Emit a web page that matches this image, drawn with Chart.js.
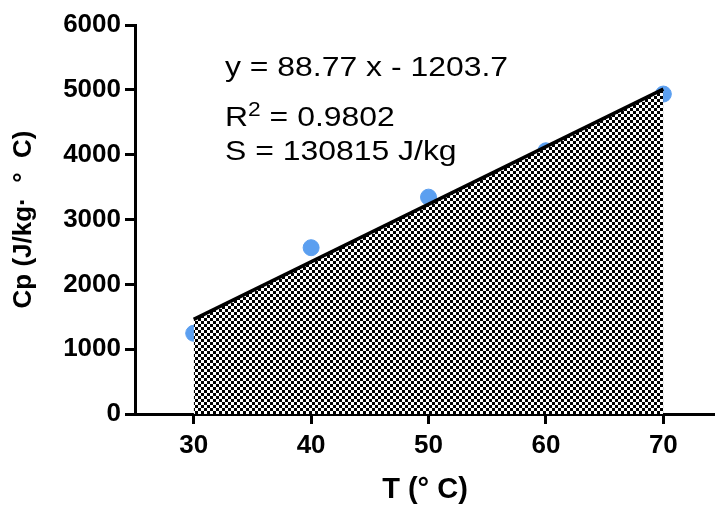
<!DOCTYPE html>
<html>
<head>
<meta charset="utf-8">
<script src="https://cdn.jsdelivr.net/npm/chart.js@4.4.1/dist/chart.umd.min.js"></script>
<style>
    html, body { margin: 0; padding: 0; background: #fff; }
    #wrap { position: relative; width: 715px; height: 511px; overflow: hidden; }
    .fit {
        position: absolute; left: 225px;
        font-family: 'Liberation Sans', Arial, sans-serif;
        font-size: 28px; line-height: 28px; color: #000;
        white-space: nowrap;
        transform: scaleX(1.14); transform-origin: 0 0;
    }
    .fit .sup { font-size: 20px; position: relative; top: -10px; }
</style>
</head>
<body>
<div id="wrap">
    <canvas id="cp"></canvas>
    <div class="fit" id="fitEq" style="top:53px"></div>
    <div class="fit" id="fitR2" style="top:103px"></div>
    <div class="fit" id="fitS" style="top:137px"></div>
</div>
<script>
// ── Data ────────────────────────────────────────────────────
const temps = [30, 40, 50, 60, 70];
const cpValues = [1245, 2565, 3345, 4060, 4935];
const slope = 88.77;
const intercept = -1203.7;
const r2 = 0.9802;
const area = 130815;
const xTicks = [30, 40, 50, 60, 70];
const yTicks = [0, 1000, 2000, 3000, 4000, 5000, 6000];

// fitted line from first to last temperature
const fitStart = temps[0];
const fitEnd = temps[temps.length - 1];

// ── Checkered fill under the fit ────────────────────────────
function checkerPattern(ctx, cell) {
    const c = document.createElement('canvas');
    c.width = cell * 2;
    c.height = cell * 2;
    const g = c.getContext('2d');
    g.fillStyle = '#ffffff';
    g.fillRect(0, 0, c.width, c.height);
    g.fillStyle = '#000000';
    g.fillRect(0, 0, cell, cell);
    g.fillRect(cell, cell, cell, cell);
    return ctx.createPattern(c, 'repeat');
}

const canvas = document.getElementById('cp');
canvas.width = 715;
canvas.height = 511;
const ctx = canvas.getContext('2d');

document.getElementById('fitEq').textContent = `y = ${slope} x - ${Math.abs(intercept)}`;
document.getElementById('fitR2').innerHTML = `R<span class="sup">2</span> = ${r2}`;
document.getElementById('fitS').textContent = `S = ${area} J/kg`;

const FONT = "'Liberation Sans', Arial, sans-serif";
const tickFont = { family: FONT, size: 26, weight: 'bold' };

new Chart(canvas, {
    data: {
        datasets: [
            {
                type: 'scatter',
                data: temps.map((t, i) => ({ x: t, y: cpValues[i] })),
                backgroundColor: '#5b9ff0',
                borderColor: '#5b9ff0',
                pointRadius: 8,
                order: 2
            },
            {
                type: 'line',
                data: [
                    { x: fitStart, y: slope * fitStart + intercept },
                    { x: fitEnd, y: slope * fitEnd + intercept }
                ],
                borderColor: '#000',
                borderWidth: 3.5,
                backgroundColor: checkerPattern(ctx, 3),
                fill: 'origin',
                pointRadius: 0,
                order: 1
            }
        ]
    },
    options: {
        responsive: false,
        animation: false,
        layout: { autoPadding: false, padding: { top: 25, right: 0, left: 0, bottom: 0 } },
        plugins: {
            legend: { display: false },
            tooltip: { enabled: false }
        },
        scales: {
            x: {
                type: 'linear',
                min: 25,
                max: 74.4,
                afterBuildTicks: s => { s.ticks = xTicks.map(v => ({ value: v })); },
                afterFit: s => { s.height = 97; s.paddingLeft = 0; s.paddingRight = 0; },
                border: { color: '#000', width: 3 },
                grid: { drawOnChartArea: false, color: '#000', lineWidth: 3, tickLength: 10 },
                ticks: { color: '#000', font: tickFont, padding: 6, callback: v => String(v) },
                title: {
                    display: true, text: 'T (° C)', color: '#000',
                    font: { family: FONT, size: 29, weight: 'bold' },
                    padding: { top: 4 }
                }
            },
            y: {
                min: 0,
                max: 6000,
                afterBuildTicks: s => { s.ticks = yTicks.map(v => ({ value: v })); },
                afterFit: s => { s.width = 135; s.paddingTop = 0; s.paddingBottom = 0; },
                border: { color: '#000', width: 3 },
                grid: { drawOnChartArea: false, color: '#000', lineWidth: 3, tickLength: 10 },
                ticks: { color: '#000', font: tickFont, padding: 4, callback: v => String(v) },
                title: {
                    display: true, text: 'Cp (J/kg·  °  C)', color: '#000',
                    font: { family: FONT, size: 26, weight: 'bold' },
                    padding: { top: 8, bottom: 0 }
                }
            }
        }
    }
});
</script>
</body>
</html>
